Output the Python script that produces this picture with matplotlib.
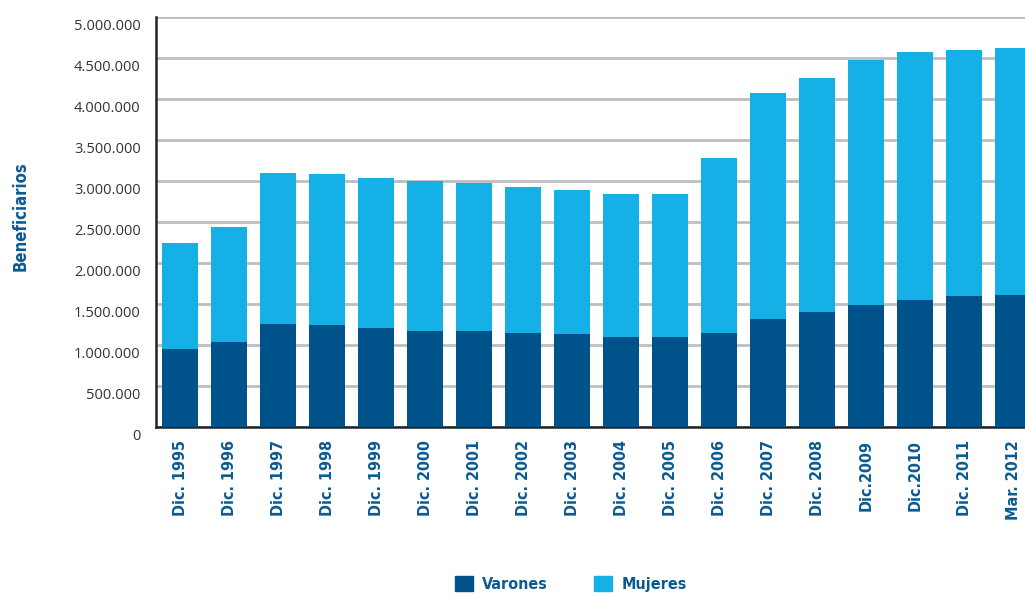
import numpy as np
import matplotlib
matplotlib.use('Agg')
import matplotlib.pyplot as plt
import matplotlib.transforms as mtransforms
from matplotlib.patches import Patch

periodos = ['Dic. 1995', 'Dic. 1996', 'Dic. 1997', 'Dic. 1998', 'Dic. 1999', 'Dic. 2000',
            'Dic. 2001', 'Dic. 2002', 'Dic. 2003', 'Dic. 2004', 'Dic. 2005', 'Dic. 2006',
            'Dic. 2007', 'Dic. 2008', 'Dic.2009', 'Dic.2010', 'Dic. 2011', 'Mar. 2012']
varones = [948000, 1033000, 1252000, 1240000, 1204000, 1167000, 1167000, 1143000, 1130000,
           1090000, 1090000, 1140000, 1310000, 1400000, 1480000, 1545000, 1590000, 1610000]
totales = [2240000, 2440000, 3090000, 3080000, 3030000, 3000000, 2970000, 2920000, 2890000,
           2840000, 2840000, 3280000, 4070000, 4250000, 4470000, 4570000, 4590000, 4620000]
mujeres = [t - v for t, v in zip(totales, varones)]
yticks = [0, 500000, 1000000, 1500000, 2000000, 2500000, 3000000, 3500000, 4000000, 4500000, 5000000]

c_var = '#00528a'
c_muj = '#15b0e6'
c_txt = '#0b5a92'
narrow = ['Liberation Sans Narrow', 'DejaVu Sans']

fig = plt.figure(figsize=(10.25, 5.97), dpi=100)
ax = fig.add_axes([0.1522, 0.2853, 0.8478, 0.6867])

x = np.arange(len(periodos))
ax.bar(x, varones, width=0.73, color=c_var, zorder=3)
ax.bar(x, mujeres, width=0.73, bottom=varones, color=c_muj, zorder=3)

ax.set_xlim(-0.49, 17.24)
ax.set_ylim(0, 5000000)
ax.set_yticks(yticks)
ax.set_yticklabels(['0'] + [f'{v:,}'.replace(',', '.') for v in yticks[1:]],
                   fontsize=10.5, color='#333333', family=['Open Sans', 'DejaVu Sans'])
ax.yaxis.grid(True, color='#bdbdc2', linewidth=2, zorder=0)
ax.tick_params(axis='both', length=0)
ax.tick_params(axis='y', pad=11)
off = mtransforms.ScaledTranslation(0, -8 / 100, fig.dpi_scale_trans)
for lab in ax.get_yticklabels():
    lab.set_transform(lab.get_transform() + off)

ax.set_xticks(x)
ax.set_xticklabels(periodos, rotation=90, fontsize=11.5, fontweight='bold', color=c_txt,
                   family=narrow, fontstretch='condensed', va='top', ha='center')
ax.tick_params(axis='x', pad=9.5)

for s in ['top', 'right']:
    ax.spines[s].set_visible(False)
for s in ['left', 'bottom']:
    ax.spines[s].set_color('#222222')
    ax.spines[s].set_linewidth(1.8)

fig.text(0.02, 0.638, 'Beneficiarios', rotation=90, ha='center', va='center',
         fontsize=12, fontweight='bold', color=c_txt, family=narrow, fontstretch='condensed')

handles = [Patch(color=c_var, label='Varones'), Patch(color=c_muj, label='Mujeres')]
leg = fig.legend(handles=handles, loc='center', bbox_to_anchor=(0.557, 0.022), ncol=2,
                 frameon=False, handlelength=1.1, handleheight=1.1, handletextpad=0.6,
                 columnspacing=2.9,
                 prop={'family': narrow, 'weight': 'bold', 'size': 11.5, 'stretch': 'condensed'})
for t in leg.get_texts():
    t.set_color(c_txt)

fig.savefig('out.png', dpi=100)
